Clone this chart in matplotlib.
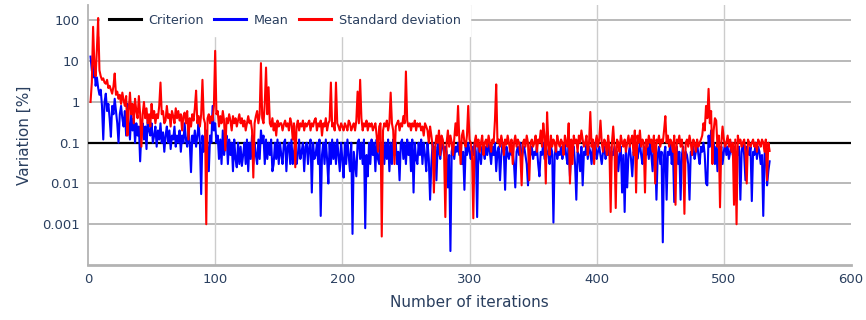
import numpy as np
import matplotlib
matplotlib.use("Agg")
import matplotlib.pyplot as plt

# Relative variation (%) of the estimate per iteration, starting at iteration 2
std_pct = [
    1.0, 3.0, 70, 8, 4.3, 20, 115, 6, 4.3, 3.5,
    3.8, 3.0, 2.8, 3.5, 2.2, 2.5, 2.0, 1.6, 2.4, 5.0,
    1.5, 1.8, 1.2, 1.5, 0.9, 1.7, 1.1, 0.8, 1.4, 0.15,
    0.6, 1.7, 0.5, 0.9, 0.3, 1.2, 0.6, 0.4, 1.4, 0.5,
    0.08, 0.5, 1.0, 0.4, 0.7, 0.3, 0.5, 0.25, 0.9, 0.4,
    0.6, 0.3, 0.5, 0.4, 0.8, 3.0, 0.5, 0.6, 0.3, 0.35,
    0.8, 0.4, 0.5, 0.25, 0.6, 0.45, 0.3, 0.7, 0.4, 0.6,
    0.35, 0.5, 0.2, 0.45, 0.55, 0.3, 0.6, 0.12, 0.4, 0.25,
    0.5, 0.35, 0.7, 1.9, 0.3, 0.45, 0.25, 0.5, 3.5, 0.4,
    0.3, 0.001, 0.4, 0.5, 0.3, 0.45, 0.35, 0.8, 18, 0.5,
    0.6, 0.25, 0.45, 0.3, 0.6, 0.35, 0.065, 0.4, 0.3, 0.5,
    0.35, 0.2, 0.45, 0.3, 0.4, 0.25, 0.35, 0.5, 0.3, 0.4,
    0.25, 0.35, 0.2, 0.3, 0.45, 0.3, 0.35, 0.2, 0.014, 0.3,
    0.45, 0.6, 0.3, 0.5, 9.0, 0.4, 0.3, 0.9, 7.0, 0.5,
    2.3, 0.3, 0.25, 0.4, 0.2, 0.3, 0.15, 0.35, 0.25, 0.3,
    0.3, 0.2, 0.28, 0.35, 0.25, 0.3, 0.2, 0.4, 0.3, 0.12,
    0.3, 0.025, 0.25, 0.35, 0.2, 0.3, 0.25, 0.35, 0.2, 0.3,
    0.25, 0.3, 0.35, 0.2, 0.3, 0.25, 0.35, 0.4, 0.2, 0.3,
    0.25, 0.35, 0.15, 0.3, 0.25, 0.4, 0.2, 0.3, 0.35, 3.0,
    0.25, 0.3, 0.2, 3.0, 0.3, 0.25, 0.2, 0.3, 0.25, 0.2,
    0.3, 0.25, 0.2, 0.35, 0.3, 0.2, 0.25, 0.3, 0.2, 0.35,
    1.8, 0.3, 3.5, 0.4, 0.2, 0.3, 0.25, 0.35, 0.2, 0.3,
    0.25, 0.3, 0.2, 0.25, 0.3, 0.15, 0.06, 0.25, 0.3, 0.0005,
    0.2, 0.3, 0.25, 0.35, 0.2, 0.3, 1.7, 0.3, 0.2, 0.03,
    0.25, 0.3, 0.35, 0.2, 0.3, 0.25, 0.45, 0.3, 5.6, 0.35,
    0.25, 0.3, 0.2, 0.3, 0.25, 0.35, 0.2, 0.3, 0.25, 0.3,
    0.2, 0.25, 0.15, 0.3, 0.25, 0.2, 0.1, 0.25, 0.15, 0.08,
    0.006, 0.08, 0.15, 0.1, 0.2, 0.05, 0.15, 0.12, 0.06, 0.0015,
    0.1, 0.2, 0.08, 0.15, 0.1, 0.05, 0.12, 0.3, 0.15, 0.8,
    0.12, 0.03, 0.15, 0.2, 0.1, 0.08, 0.15, 0.8, 0.12, 0.1,
    0.05, 0.0014, 0.1, 0.15, 0.08, 0.12, 0.06, 0.1, 0.15, 0.05,
    0.1, 0.12, 0.08, 0.15, 0.1, 0.06, 0.12, 0.1, 0.35, 2.7,
    0.1, 0.12, 0.08, 0.15, 0.1, 0.05, 0.12, 0.09, 0.15, 0.1,
    0.06, 0.12, 0.03, 0.1, 0.15, 0.08, 0.12, 0.1, 0.05, 0.009,
    0.1, 0.12, 0.08, 0.15, 0.1, 0.012, 0.1, 0.12, 0.08, 0.1,
    0.15, 0.06, 0.12, 0.1, 0.2, 0.08, 0.3, 0.15, 0.01, 0.56,
    0.1, 0.05, 0.15, 0.08, 0.12, 0.1, 0.06, 0.15, 0.1, 0.08,
    0.12, 0.1, 0.05, 0.15, 0.1, 0.08, 0.3, 0.01, 0.12, 0.03,
    0.15, 0.1, 0.12, 0.06, 0.15, 0.1, 0.2, 0.12, 0.08, 0.1,
    0.15, 0.05, 0.1, 0.57, 0.08, 0.12, 0.03, 0.1, 0.15, 0.08,
    0.12, 0.35, 0.1, 0.06, 0.12, 0.1, 0.05, 0.15, 0.08, 0.002,
    0.1, 0.25, 0.08, 0.0025, 0.12, 0.1, 0.06, 0.15, 0.1, 0.08,
    0.12, 0.06, 0.1, 0.15, 0.08, 0.12, 0.15, 0.05, 0.2, 0.006,
    0.15, 0.1, 0.2, 0.08, 0.12, 0.1, 0.006, 0.12, 0.08, 0.15,
    0.1, 0.12, 0.06, 0.15, 0.01, 0.12, 0.1, 0.15, 0.08, 0.12,
    0.1, 0.2, 0.45, 0.1, 0.15, 0.08, 0.12, 0.1, 0.06, 0.15,
    0.003, 0.12, 0.1, 0.15, 0.08, 0.12, 0.06, 0.0018, 0.1, 0.12,
    0.08, 0.15, 0.1, 0.05, 0.12, 0.1, 0.06, 0.12, 0.08, 0.1,
    0.12, 0.15, 0.3, 0.2, 0.8, 0.4, 2.1, 0.3, 0.6, 0.03,
    0.2, 0.4, 0.35, 0.08, 0.15, 0.0026, 0.1, 0.25, 0.12, 0.08,
    0.1, 0.15, 0.08, 0.12, 0.06, 0.1, 0.003, 0.12, 0.001, 0.15,
    0.1, 0.12, 0.08, 0.1, 0.12, 0.06, 0.01, 0.12, 0.1, 0.08,
    0.1, 0.12, 0.08, 0.1, 0.06, 0.12, 0.1, 0.08, 0.12, 0.1,
    0.06, 0.12, 0.012, 0.1, 0.063,
]

mean_pct = [
    13, 6, 4, 8, 2.5, 4, 2.2, 1.5, 2.0, 0.8,
    0.12, 1.0, 1.6, 0.6, 0.9, 0.4, 0.14, 0.8, 0.5, 1.2,
    0.6, 0.3, 0.1, 0.5, 0.8, 0.4, 0.25, 0.6, 0.15, 0.9,
    0.3, 0.12, 0.5, 0.2, 0.4, 0.1, 0.3, 0.15, 0.25, 0.035,
    0.2, 0.3, 0.12, 0.25, 0.07, 0.4, 0.2, 0.15, 0.3, 0.1,
    0.15, 0.25, 0.08, 0.2, 0.12, 0.3, 0.1, 0.18, 0.06, 0.15,
    0.25, 0.1, 0.2, 0.07, 0.15, 0.12, 0.25, 0.08, 0.15, 0.1,
    0.2, 0.06, 0.15, 0.1, 0.3, 0.12, 0.08, 0.2, 0.1, 0.019,
    0.15, 0.1, 0.2, 0.08, 0.15, 0.3, 0.1, 0.0055, 0.15, 0.06,
    0.1, 0.2, 0.08, 0.02, 0.15, 0.1, 0.8, 0.2, 0.3, 0.1,
    0.15, 0.04, 0.12, 0.03, 0.2, 0.05, 0.1, 0.15, 0.03, 0.12,
    0.05, 0.1, 0.02, 0.12, 0.04, 0.025, 0.1, 0.03, 0.08, 0.027,
    0.05, 0.1, 0.03, 0.12, 0.02, 0.1, 0.04, 0.15, 0.03, 0.1,
    0.05, 0.03, 0.12, 0.04, 0.2, 0.1, 0.15, 0.03, 0.12, 0.04,
    0.1, 0.05, 0.12, 0.02, 0.03, 0.1, 0.04, 0.12, 0.03, 0.1,
    0.05, 0.03, 0.1, 0.12, 0.02, 0.08, 0.1, 0.03, 0.12, 0.03,
    0.06, 0.1, 0.03, 0.05, 0.12, 0.04, 0.06, 0.1, 0.02, 0.08,
    0.1, 0.03, 0.08, 0.12, 0.006, 0.1, 0.04, 0.05, 0.1, 0.03,
    0.12, 0.0016, 0.05, 0.1, 0.03, 0.12, 0.04, 0.01, 0.1, 0.03,
    0.12, 0.04, 0.1, 0.03, 0.12, 0.05, 0.02, 0.1, 0.04, 0.014,
    0.1, 0.03, 0.12, 0.05, 0.02, 0.1, 0.00058, 0.06, 0.03, 0.015,
    0.1, 0.12, 0.04, 0.1, 0.03, 0.12, 0.0008, 0.05, 0.015, 0.1,
    0.03, 0.12, 0.05, 0.1, 0.02, 0.12, 0.04, 0.03, 0.1, 0.05,
    0.12, 0.03, 0.1, 0.04, 0.12, 0.02, 0.1, 0.03, 0.12, 0.05,
    0.1, 0.03, 0.06, 0.012, 0.1, 0.12, 0.04, 0.1, 0.03, 0.12,
    0.05, 0.1, 0.02, 0.12, 0.006, 0.1, 0.04, 0.03, 0.1, 0.05,
    0.12, 0.03, 0.1, 0.05, 0.02, 0.1, 0.04, 0.004, 0.03, 0.1,
    0.05, 0.08, 0.012, 0.1, 0.06, 0.04, 0.08, 0.1, 0.05, 0.08,
    0.06, 0.008, 0.05, 0.00022, 0.06, 0.1, 0.04, 0.08, 0.06, 0.1,
    0.05, 0.08, 0.03, 0.06, 0.007, 0.08, 0.05, 0.1, 0.06, 0.04,
    0.08, 0.05, 0.1, 0.06, 0.0015, 0.08, 0.05, 0.03, 0.08, 0.06,
    0.04, 0.08, 0.05, 0.1, 0.06, 0.03, 0.08, 0.05, 0.1, 0.02,
    0.06, 0.08, 0.012, 0.05, 0.1, 0.06, 0.007, 0.08, 0.05, 0.04,
    0.08, 0.05, 0.06, 0.03, 0.008, 0.06, 0.08, 0.05, 0.1, 0.04,
    0.06, 0.08, 0.05, 0.03, 0.009, 0.06, 0.05, 0.08, 0.04, 0.06,
    0.05, 0.08, 0.03, 0.015, 0.06, 0.05, 0.1, 0.04, 0.08, 0.06,
    0.05, 0.03, 0.08, 0.06, 0.0011, 0.05, 0.08, 0.04, 0.06, 0.05,
    0.08, 0.04, 0.06, 0.1, 0.05, 0.03, 0.08, 0.015, 0.06, 0.05,
    0.08, 0.03, 0.004, 0.06, 0.05, 0.02, 0.08, 0.009, 0.06, 0.05,
    0.1, 0.04, 0.08, 0.06, 0.03, 0.08, 0.05, 0.1, 0.04, 0.06,
    0.08, 0.05, 0.03, 0.06, 0.08, 0.04, 0.06, 0.05, 0.08, 0.03,
    0.06, 0.05, 0.08, 0.04, 0.06, 0.02, 0.05, 0.08, 0.006, 0.05,
    0.002, 0.06, 0.008, 0.05, 0.08, 0.04, 0.015, 0.06, 0.05, 0.08,
    0.04, 0.06, 0.1, 0.05, 0.03, 0.08, 0.06, 0.05, 0.08, 0.04,
    0.1, 0.05, 0.02, 0.08, 0.06, 0.004, 0.05, 0.08, 0.03, 0.06,
    0.00036, 0.05, 0.08, 0.004, 0.06, 0.05, 0.1, 0.03, 0.06, 0.0035,
    0.05, 0.08, 0.03, 0.06, 0.004, 0.05, 0.08, 0.02, 0.06, 0.05,
    0.03, 0.004, 0.06, 0.05, 0.08, 0.04, 0.06, 0.1, 0.05, 0.03,
    0.08, 0.06, 0.1, 0.05, 0.01, 0.009, 0.15, 0.08, 0.2, 0.06,
    0.1, 0.03, 0.08, 0.02, 0.1, 0.05, 0.08, 0.03, 0.06, 0.1,
    0.05, 0.08, 0.04, 0.06, 0.1, 0.05, 0.08, 0.03, 0.06, 0.05,
    0.08, 0.004, 0.06, 0.1, 0.05, 0.012, 0.08, 0.06, 0.05, 0.08,
    0.0037, 0.06, 0.05, 0.1, 0.04, 0.08, 0.06, 0.03, 0.05, 0.0016,
    0.05, 0.08, 0.009, 0.02, 0.035,
]

criterion_pct = 0.1
first_iteration = 2

y_tick_values = [0.001, 0.01, 0.1, 1, 10, 100]
y_tick_labels = ["0.001", "0.01", "0.1", "1", "10", "100"]
x_tick_values = [0, 100, 200, 300, 400, 500, 600]

iter_std = np.arange(first_iteration, first_iteration + len(std_pct))
iter_mean = np.arange(first_iteration, first_iteration + len(mean_pct))

TEXT = "#2a3f5f"
GRID_H = "#b3b3b3"
GRID_V = "#cccccc"

plt.rcParams["font.family"] = ["DejaVu Sans"]

fig = plt.figure(figsize=(8.66, 3.2), dpi=100)
ax = fig.add_axes([88 / 866, 1 - 265 / 320, (851 - 88) / 866, (265 - 5) / 320])

ax.axhline(criterion_pct, color="black", lw=1.6, label="Criterion", zorder=3)
ax.plot(iter_mean, mean_pct, color="#0000ff", lw=1.5, label="Mean", zorder=4)
ax.plot(iter_std, std_pct, color="#ff0000", lw=1.5, label="Standard deviation", zorder=5)

ax.set_yscale("log")
ax.set_ylim(1e-4, 10 ** 2.38)
ax.set_xlim(0, 600)

ax.set_yticks(y_tick_values)
ax.set_yticklabels(y_tick_labels)
ax.yaxis.set_minor_locator(matplotlib.ticker.NullLocator())
ax.set_xticks(x_tick_values)

ax.tick_params(axis="both", length=0, labelsize=9.5, labelcolor=TEXT, pad=6)

for y in y_tick_values:
    ax.axhline(y, color=GRID_H, lw=1.3, zorder=1)
for x in x_tick_values[1:-1]:
    ax.axvline(x, color=GRID_V, lw=1.0, zorder=1)

for side in ("top", "right"):
    ax.spines[side].set_visible(False)
ax.spines["left"].set_color(GRID_H)
ax.spines["left"].set_linewidth(1.3)
ax.spines["bottom"].set_color(GRID_H)
ax.spines["bottom"].set_linewidth(2.0)

ax.set_xlabel("Number of iterations", fontsize=11, color=TEXT, labelpad=6)
ax.set_ylabel("Variation [%]", fontsize=11, color=TEXT, labelpad=7)

leg = ax.legend(
    loc="upper left",
    bbox_to_anchor=(12 / 763, 1.0),
    ncol=3,
    frameon=True,
    fancybox=False,
    edgecolor="white",
    facecolor="white",
    framealpha=1.0,
    fontsize=9.2,
    handlelength=2.5,
    handletextpad=0.6,
    columnspacing=0.8,
    borderpad=0.7,
    borderaxespad=0.0,
)
leg.set_zorder(10)
for t in leg.get_texts():
    t.set_color(TEXT)
for h in leg.get_lines():
    h.set_linewidth(2.2)

fig.savefig("out.png", dpi=100)
